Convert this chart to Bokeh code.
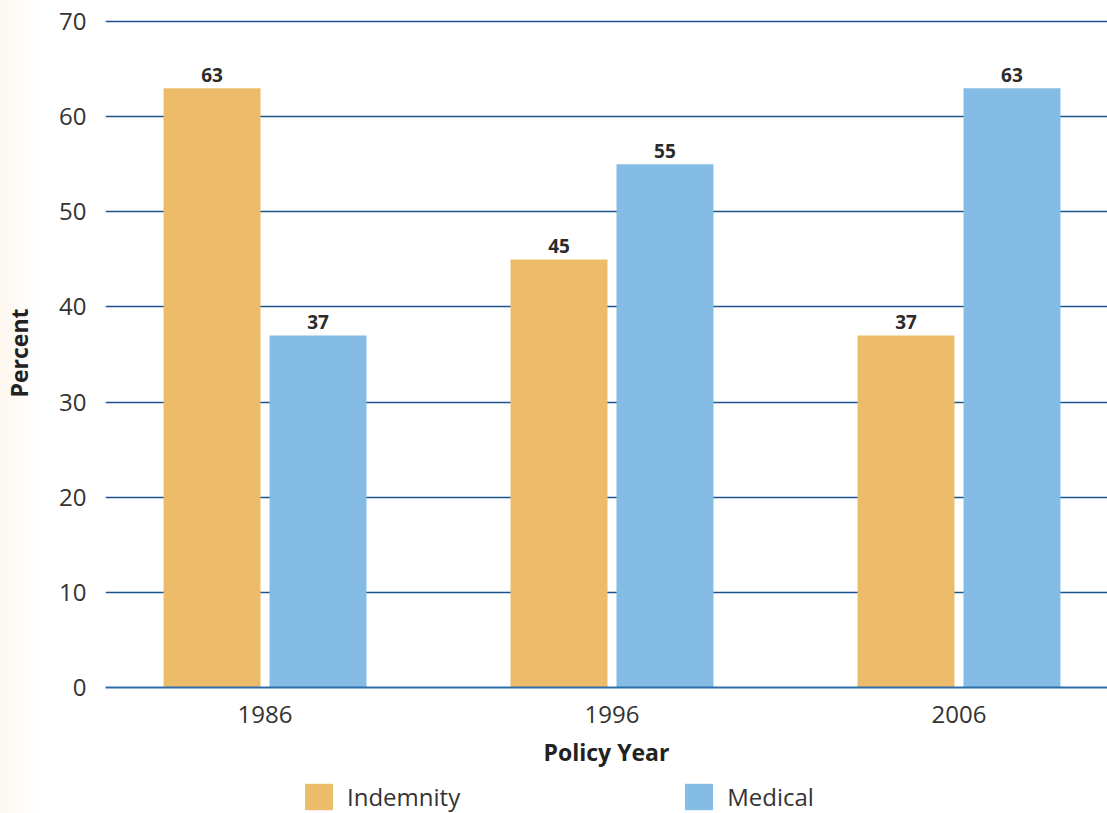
from bokeh.plotting import figure
from bokeh.layouts import column
from bokeh.models import ColumnDataSource, Range1d, FixedTicker, Legend, LegendItem, LabelSet
from bokeh.core.properties import value
from bokeh.embed import file_html
from bokeh.resources import INLINE

# Share of benefits by policy year
years = ["1986", "1996", "2006"]
indemnity = [63, 45, 37]
medical = [37, 55, 63]
series_names = ["Indemnity", "Medical"]

FONT = "Open Sans"
ORANGE = "#EDBC6B"
BLUE = "#85BCE5"
GRID = "#1B5590"
TEXT = "#333333"
EDGE_FADE = {"background": "linear-gradient(to right, #FCF7EF 0px, #FFFFFF 38px)"}

pos = list(range(len(years)))
offset = 0.1527
bar_w = 0.2795

src_ind = ColumnDataSource(dict(x=[p_ - offset for p_ in pos], top=indemnity,
                                lbl=[str(v) for v in indemnity]))
src_med = ColumnDataSource(dict(x=[p_ + offset for p_ in pos], top=medical,
                                lbl=[str(v) for v in medical]))

p = figure(width=1107, height=775, output_backend="svg", toolbar_location=None,
           x_range=Range1d(-0.4597, 2.428), y_range=Range1d(0, 70.32))
p.min_border_left = 105
p.min_border_right = 0
p.min_border_top = 18
p.min_border_bottom = 88
p.outline_line_color = None
p.border_fill_color = None
p.background_fill_color = "white"
p.styles = EDGE_FADE

p.vbar(x="x", top="top", width=bar_w, source=src_ind, fill_color=ORANGE, line_color=None)
p.vbar(x="x", top="top", width=bar_w, source=src_med, fill_color=BLUE, line_color=None)

for s in (src_ind, src_med):
    p.add_layout(LabelSet(x="x", y="top", text="lbl", source=s, y_offset=6,
                          text_align="center", text_baseline="alphabetic",
                          text_font=value(FONT), text_font_style="bold",
                          text_font_size="19px", text_color="#2B2B2B"))

# grid
p.xgrid.visible = False
p.ygrid.ticker = FixedTicker(ticks=list(range(0, 71, 10)))
p.ygrid.grid_line_color = GRID
p.ygrid.grid_line_width = 1.6

# y axis
p.yaxis.ticker = FixedTicker(ticks=list(range(0, 71, 10)))
p.yaxis.axis_line_color = None
p.yaxis.major_tick_line_color = None
p.yaxis.minor_tick_line_color = None
p.yaxis.major_label_text_font = FONT
p.yaxis.major_label_text_font_size = "24px"
p.yaxis.major_label_text_color = TEXT
p.yaxis.major_label_standoff = 13
p.yaxis.axis_label = "Percent"
p.yaxis.axis_label_text_font = FONT
p.yaxis.axis_label_text_font_style = "bold"
p.yaxis.axis_label_text_font_size = "23px"
p.yaxis.axis_label_text_color = "#222222"
p.yaxis.axis_label_standoff = 21

# x axis
p.xaxis.ticker = FixedTicker(ticks=pos)
p.xaxis.major_label_overrides = {i: y for i, y in enumerate(years)}
p.xaxis.axis_line_color = "#2E6DAA"
p.xaxis.axis_line_width = 2
p.xaxis.major_tick_line_color = None
p.xaxis.minor_tick_line_color = None
p.xaxis.major_label_text_font = FONT
p.xaxis.major_label_text_font_size = "24px"
p.xaxis.major_label_text_color = TEXT
p.xaxis.major_label_standoff = 12
p.xaxis.axis_label = "Policy Year"
p.xaxis.axis_label_text_font = FONT
p.xaxis.axis_label_text_font_style = "bold"
p.xaxis.axis_label_text_font_size = "23px"
p.xaxis.axis_label_text_color = "#222222"
p.xaxis.axis_label_standoff = 10

# legend strip underneath the chart
leg = figure(width=1107, height=38, output_backend="svg", toolbar_location=None,
             x_range=Range1d(0, 1), y_range=Range1d(0, 1),
             x_axis_type=None, y_axis_type=None)
leg.min_border_left = leg.min_border_right = 0
leg.min_border_top = leg.min_border_bottom = 0
leg.outline_line_color = None
leg.border_fill_color = None
leg.background_fill_color = None
leg.xgrid.visible = False
leg.ygrid.visible = False
leg.styles = EDGE_FADE

# key glyphs only: NaN positions keep them off the strip itself
nan = float("nan")
k_ind = leg.vbar(x=[nan], top=[nan], width=0.1, fill_color=ORANGE, line_color=None)
k_med = leg.vbar(x=[nan], top=[nan], width=0.1, fill_color=BLUE, line_color=None)

# area keys are drawn inset by 10% on each side, so the boxes are a bit larger
legend = Legend(items=[LegendItem(label=series_names[0], renderers=[k_ind]),
                       LegendItem(label=series_names[1], renderers=[k_med])],
                orientation="horizontal", location=(196, 0),
                glyph_width=35, glyph_height=33, label_standoff=11,
                label_text_font=FONT, label_text_font_size="24px",
                label_text_color=TEXT, spacing=221,
                border_line_color=None, background_fill_alpha=0,
                padding=0, margin=0)
leg.add_layout(legend, "center")

open("out.html", "w").write(file_html(column(p, leg, spacing=0), INLINE))
